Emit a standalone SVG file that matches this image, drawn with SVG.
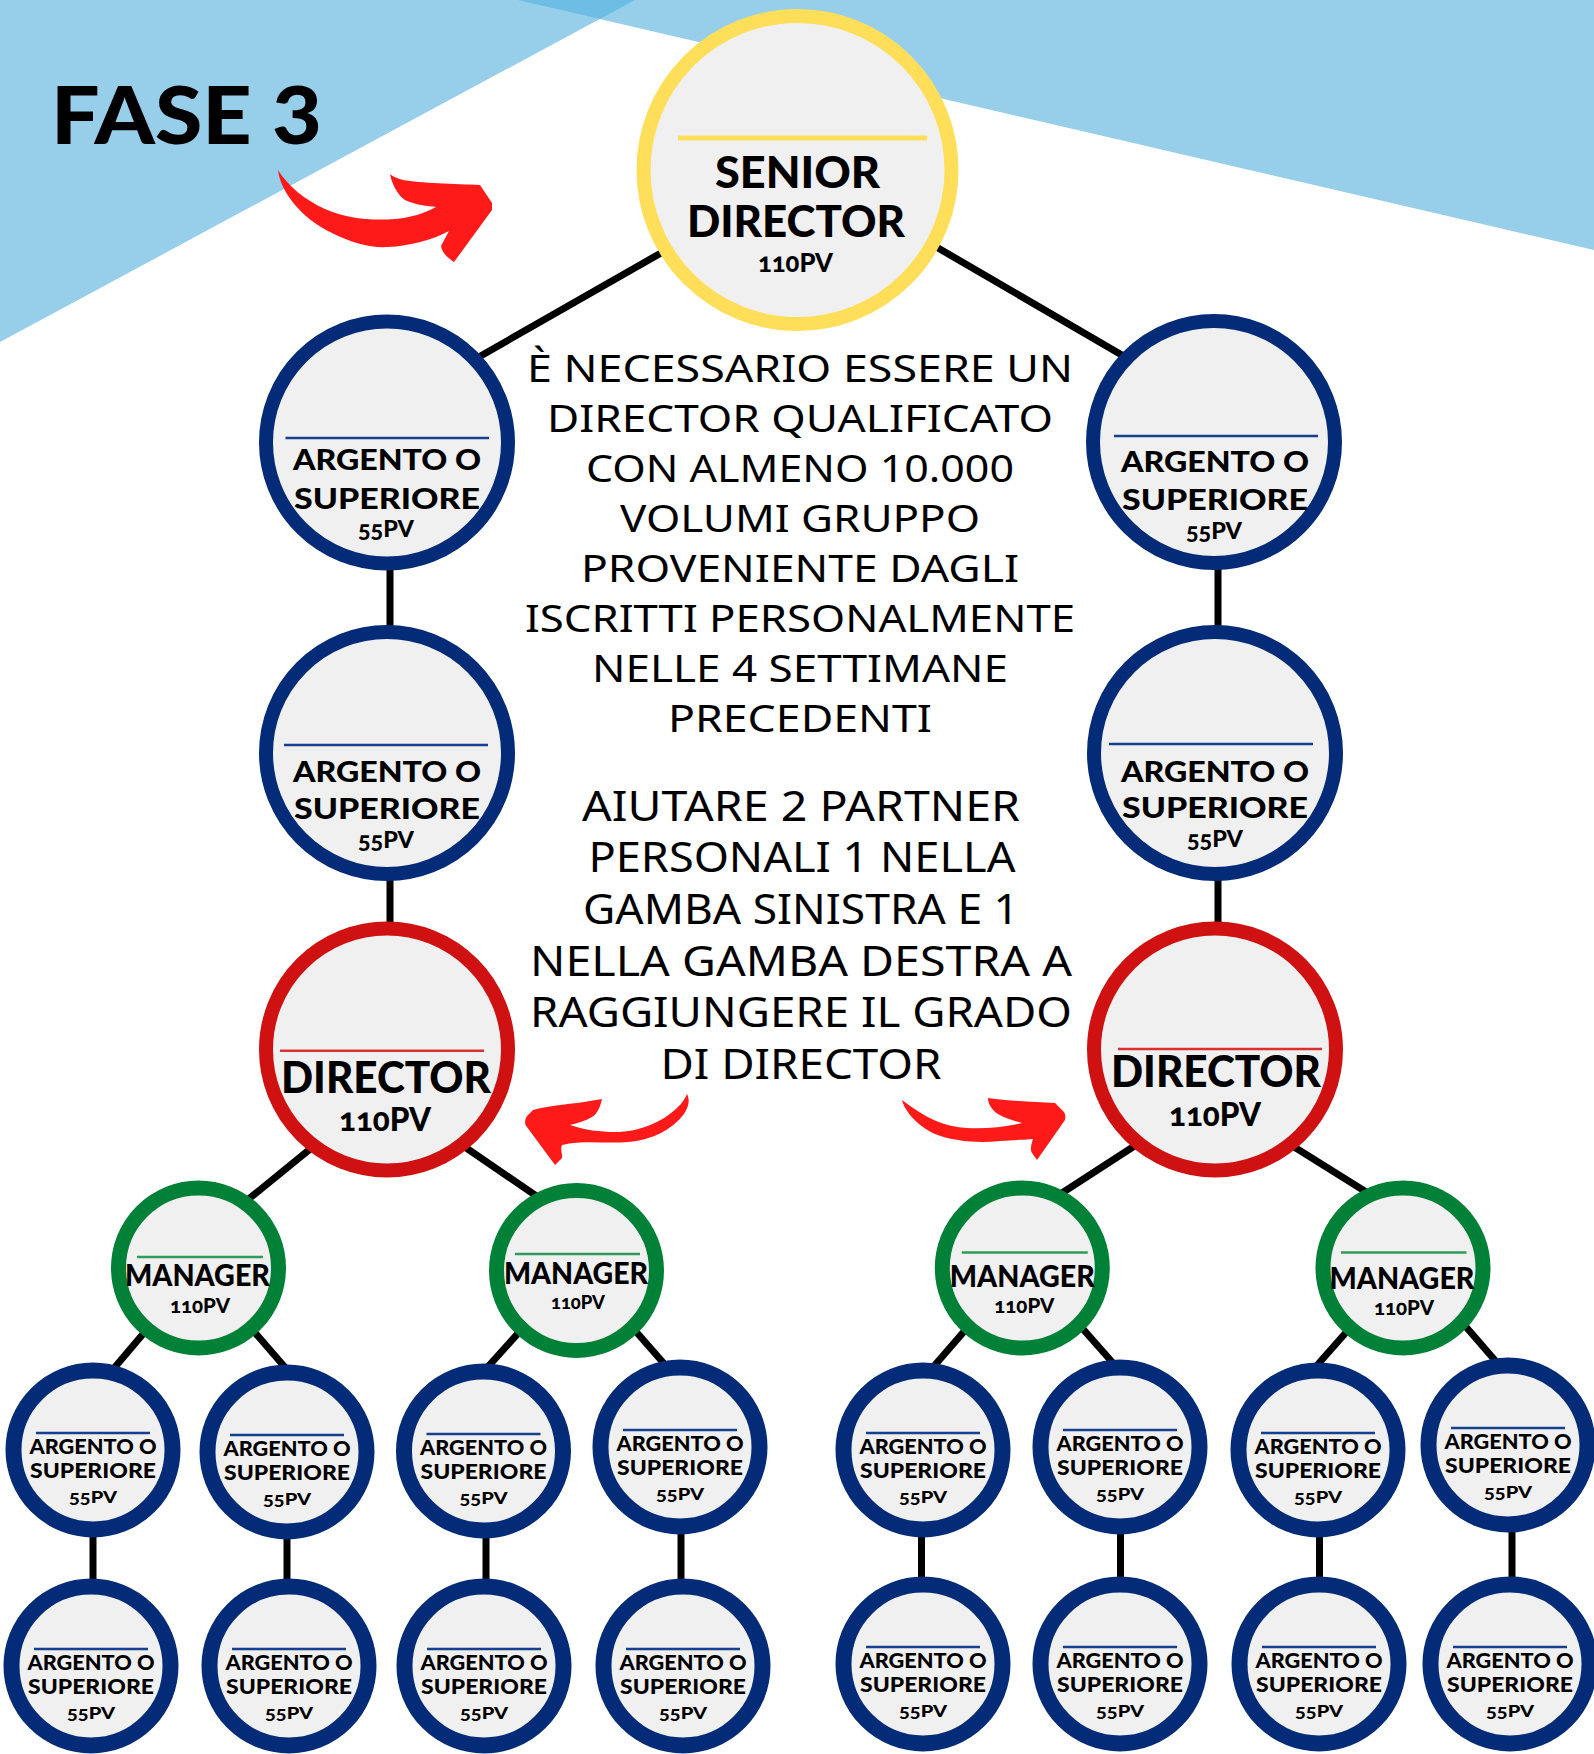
<svg xmlns="http://www.w3.org/2000/svg" width="1594" height="1754" viewBox="0 0 1594 1754">
<style>
.bg1{fill:#97cfeb}
.bg2{fill:#6dbde5}
.conn line{stroke:#000;stroke-width:7}
.arrow{fill:#ff1a1a}
circle{fill:#f0f0f0}
.sd{stroke:#ffde59;stroke-width:14}
.ag{stroke:#042b78;stroke-width:14}
.sm{stroke:#042b78;stroke-width:16}
.dr{stroke:#cf1111;stroke-width:14}
.mg{stroke:#018037;stroke-width:15}
.ly{stroke:#ffde59;stroke-width:5}
.lb{stroke:#173f8f;stroke-width:2.5}
.lr{stroke:#d93030;stroke-width:2.5}
.lg{stroke:#2f9a5a;stroke-width:2.5}
.t{font-family:Lato,"Noto Sans","DejaVu Sans",sans-serif;font-weight:900;fill:#000;text-anchor:middle}
.pv{font-variant-numeric:oldstyle-nums}
.p{font-family:"Noto Sans","Open Sans","DejaVu Sans",sans-serif;font-weight:400;fill:#000;text-anchor:middle}
.title{font-family:Lato,"Liberation Sans",sans-serif;font-weight:900;fill:#000}
</style>
<rect x="0" y="0" width="1594" height="1754" fill="#ffffff"/>
<g id="background">
<polygon class="bg1" points="0,0 635,0 0,342"/>
<polygon class="bg1" points="518,0 1594,0 1594,250"/>
<polygon class="bg2" points="518,0 635,0 600,19"/>
</g>
<text class="title" x="51" y="144" font-size="80" textLength="271" lengthAdjust="spacingAndGlyphs">FASE 3</text>
<g id="arrows">
<path class="arrow" d="M278,170 C280,190 300,218 332,233 C352,243 370,248 388,247 C410,246 432,240 449,231 L441,246 C442,253 448,258 454,262 L492,210 L492,203 L480,185 C455,184 420,183 403,180 C396,178 392,176 390,174 C392,185 398,195 405,200 C415,205 428,206 436,207 C425,213 410,218 395,219 C370,221 345,218 325,209 C305,200 288,186 278,170 Z"/>
<path class="arrow" d="M687,1094 C690,1100 689,1106 684,1114 C672,1130 652,1140 628,1142 C605,1144 585,1140 562,1145 C560,1150 563,1155 562,1158 L555,1165 L527,1127 C524,1124 525,1119 527,1116 L533,1110 C550,1105 575,1104 590,1101 L602,1099 C600,1108 597,1114 592,1117 C585,1121 578,1123 570,1125 C585,1130 600,1132 615,1132 C640,1132 662,1122 677,1108 C682,1103 685,1099 687,1094 Z"/>
<path class="arrow" d="M902,1100 C905,1112 918,1126 935,1134 C955,1142 980,1143 1000,1141 C1012,1140 1024,1140 1033,1139 C1031,1145 1030,1150 1032,1153 L1037,1160 L1065,1120 C1066,1116 1065,1113 1063,1111 L1055,1103 C1035,1102 1010,1101 988,1098 C988,1104 992,1110 998,1114 C1005,1118 1014,1121 1022,1123 C1005,1127 985,1129 967,1128 C945,1127 925,1118 902,1100 Z"/>
</g>
<g id="description">
<text class="p" x="800" y="382" font-size="38" textLength="546" lengthAdjust="spacingAndGlyphs">È NECESSARIO ESSERE UN</text>
<text class="p" x="800" y="432" font-size="38" textLength="506" lengthAdjust="spacingAndGlyphs">DIRECTOR QUALIFICATO</text>
<text class="p" x="800" y="482" font-size="38" textLength="428" lengthAdjust="spacingAndGlyphs">CON ALMENO 10.000</text>
<text class="p" x="800" y="532" font-size="38" textLength="360" lengthAdjust="spacingAndGlyphs">VOLUMI GRUPPO</text>
<text class="p" x="800" y="582" font-size="38" textLength="438" lengthAdjust="spacingAndGlyphs">PROVENIENTE DAGLI</text>
<text class="p" x="800" y="632" font-size="38" textLength="550" lengthAdjust="spacingAndGlyphs">ISCRITTI PERSONALMENTE</text>
<text class="p" x="800" y="682" font-size="38" textLength="416" lengthAdjust="spacingAndGlyphs">NELLE 4 SETTIMANE</text>
<text class="p" x="800" y="732" font-size="38" textLength="264" lengthAdjust="spacingAndGlyphs">PRECEDENTI</text>
<text class="p" x="801" y="820.5" font-size="41" textLength="438" lengthAdjust="spacingAndGlyphs">AIUTARE 2 PARTNER</text>
<text class="p" x="802" y="872" font-size="41" textLength="427" lengthAdjust="spacingAndGlyphs">PERSONALI 1 NELLA</text>
<text class="p" x="801" y="924" font-size="41" textLength="436" lengthAdjust="spacingAndGlyphs">GAMBA SINISTRA E 1</text>
<text class="p" x="801" y="975.5" font-size="41" textLength="542" lengthAdjust="spacingAndGlyphs">NELLA GAMBA DESTRA A</text>
<text class="p" x="801" y="1027" font-size="41" textLength="542" lengthAdjust="spacingAndGlyphs">RAGGIUNGERE IL GRADO</text>
<text class="p" x="801" y="1079" font-size="41" textLength="281" lengthAdjust="spacingAndGlyphs">DI DIRECTOR</text>
</g>
<g id="connectors" class="conn">
<line x1="696" y1="233" x2="428" y2="386"/>
<line x1="902" y1="227" x2="1175" y2="386"/>
<line x1="390" y1="500" x2="390" y2="700"/>
<line x1="1218" y1="500" x2="1218" y2="700"/>
<line x1="390" y1="800" x2="390" y2="1000"/>
<line x1="1218" y1="800" x2="1218" y2="1000"/>
<line x1="358" y1="1110" x2="229" y2="1215"/>
<line x1="411" y1="1110" x2="564" y2="1215"/>
<line x1="1190" y1="1110" x2="1028" y2="1215"/>
<line x1="1235" y1="1110" x2="1403" y2="1215"/>
<line x1="199" y1="1268" x2="104" y2="1380"/>
<line x1="199" y1="1268" x2="296" y2="1380"/>
<line x1="575" y1="1270" x2="476" y2="1380"/>
<line x1="582" y1="1270" x2="674" y2="1375"/>
<line x1="1019" y1="1268" x2="922" y2="1380"/>
<line x1="1029" y1="1268" x2="1128" y2="1380"/>
<line x1="1403" y1="1268" x2="1304" y2="1380"/>
<line x1="1415" y1="1268" x2="1512" y2="1380"/>
<line x1="93" y1="1500" x2="93" y2="1620"/>
<line x1="287" y1="1500" x2="287" y2="1620"/>
<line x1="486" y1="1500" x2="486" y2="1620"/>
<line x1="681" y1="1500" x2="681" y2="1620"/>
<line x1="921.5" y1="1500" x2="921.5" y2="1620"/>
<line x1="1120.5" y1="1500" x2="1120.5" y2="1620"/>
<line x1="1319.5" y1="1500" x2="1319.5" y2="1620"/>
<line x1="1512" y1="1500" x2="1512" y2="1620"/>
</g>
<g id="senior-director" transform="translate(797.5,170)">
<circle class="sd" r="154"/>
<line class="ly" x1="-119.5" y1="-32" x2="129.5" y2="-32"/>
<text class="t" x="0" y="18.3" font-size="44" textLength="165" lengthAdjust="spacingAndGlyphs">SENIOR</text>
<text class="t" x="-1.5" y="66.7" font-size="44" textLength="218" lengthAdjust="spacingAndGlyphs">DIRECTOR</text>
<text class="t pv" x="-2" y="101.7" font-size="26" textLength="75" lengthAdjust="spacingAndGlyphs">110PV</text>
</g>
<g id="argento-l1" transform="translate(387,442.5)">
<circle class="ag" r="121"/>
<line class="lb" x1="-101.5" y1="-4.5" x2="102" y2="-4.5"/>
<text class="t" x="0" y="27.5" font-size="29" textLength="188" lengthAdjust="spacingAndGlyphs">ARGENTO O</text>
<text class="t" x="0" y="66" font-size="29" textLength="186" lengthAdjust="spacingAndGlyphs">SUPERIORE</text>
<text class="t pv" x="-1" y="94.5" font-size="23" textLength="56" lengthAdjust="spacingAndGlyphs">55PV</text>
</g>
<g id="argento-l2" transform="translate(387,753)">
<circle class="ag" r="121"/>
<line class="lb" x1="-103" y1="-8" x2="101" y2="-8"/>
<text class="t" x="0" y="28.5" font-size="29" textLength="188" lengthAdjust="spacingAndGlyphs">ARGENTO O</text>
<text class="t" x="0" y="65.5" font-size="29" textLength="186" lengthAdjust="spacingAndGlyphs">SUPERIORE</text>
<text class="t pv" x="-1" y="95" font-size="23" textLength="56" lengthAdjust="spacingAndGlyphs">55PV</text>
</g>
<g id="argento-r1" transform="translate(1214,442)">
<circle class="ag" r="121"/>
<line class="lb" x1="-100" y1="-6" x2="104" y2="-6"/>
<text class="t" x="1" y="30" font-size="29" textLength="188" lengthAdjust="spacingAndGlyphs">ARGENTO O</text>
<text class="t" x="1" y="67.5" font-size="29" textLength="186" lengthAdjust="spacingAndGlyphs">SUPERIORE</text>
<text class="t pv" x="0" y="97" font-size="23" textLength="56" lengthAdjust="spacingAndGlyphs">55PV</text>
</g>
<g id="argento-r2" transform="translate(1215,753)">
<circle class="ag" r="121"/>
<line class="lb" x1="-106" y1="-9" x2="98" y2="-9"/>
<text class="t" x="0" y="28.5" font-size="29" textLength="188" lengthAdjust="spacingAndGlyphs">ARGENTO O</text>
<text class="t" x="0" y="64.5" font-size="29" textLength="186" lengthAdjust="spacingAndGlyphs">SUPERIORE</text>
<text class="t pv" x="0" y="94" font-size="23" textLength="56" lengthAdjust="spacingAndGlyphs">55PV</text>
</g>
<g id="director-left" transform="translate(387,1049.5)">
<circle class="dr" r="121"/>
<line class="lr" x1="-107" y1="1.2" x2="97" y2="1.2"/>
<text class="t" x="-1" y="43.8" font-size="43" textLength="210" lengthAdjust="spacingAndGlyphs">DIRECTOR</text>
<text class="t pv" x="-2" y="81.5" font-size="32" textLength="92" lengthAdjust="spacingAndGlyphs">110PV</text>
</g>
<g id="director-right" transform="translate(1215,1049.5)">
<circle class="dr" r="121"/>
<line class="lr" x1="-97" y1="-0.5" x2="107" y2="-0.5"/>
<text class="t" x="1" y="37.8" font-size="43" textLength="210" lengthAdjust="spacingAndGlyphs">DIRECTOR</text>
<text class="t pv" x="0" y="76.5" font-size="32" textLength="92" lengthAdjust="spacingAndGlyphs">110PV</text>
</g>
<g id="manager-1" transform="translate(198.5,1268)">
<circle class="mg" r="80"/>
<line class="lg" x1="-61.5" y1="-11" x2="64.5" y2="-11"/>
<text class="t" x="-1" y="18" font-size="30" textLength="145" lengthAdjust="spacingAndGlyphs">MANAGER</text>
<text class="t pv" x="1.5" y="44.5" font-size="20" textLength="60" lengthAdjust="spacingAndGlyphs">110PV</text>
</g>
<g id="manager-2" transform="translate(576.5,1270.5)">
<circle class="mg" r="80"/>
<line class="lg" x1="-61.5" y1="-16.5" x2="63.5" y2="-16.5"/>
<text class="t" x="-0.5" y="13.5" font-size="30" textLength="144" lengthAdjust="spacingAndGlyphs">MANAGER</text>
<text class="t pv" x="1.5" y="38.5" font-size="19" textLength="54" lengthAdjust="spacingAndGlyphs">110PV</text>
</g>
<g id="manager-3" transform="translate(1022.3,1268)">
<circle class="mg" r="80"/>
<line class="lg" x1="-60.5" y1="-15.4" x2="65.5" y2="-15.4"/>
<text class="t" x="0" y="18.6" font-size="30" textLength="145" lengthAdjust="spacingAndGlyphs">MANAGER</text>
<text class="t pv" x="2" y="44.6" font-size="20" textLength="60" lengthAdjust="spacingAndGlyphs">110PV</text>
</g>
<g id="manager-4" transform="translate(1403,1268)">
<circle class="mg" r="80"/>
<line class="lg" x1="-62" y1="-15.4" x2="63.5" y2="-15.4"/>
<text class="t" x="-1" y="20.5" font-size="30" textLength="145" lengthAdjust="spacingAndGlyphs">MANAGER</text>
<text class="t pv" x="1" y="46.6" font-size="20" textLength="60" lengthAdjust="spacingAndGlyphs">110PV</text>
</g>
<defs>
<g id="small">
<circle class="sm" r="79.5"/>
<line class="lb" x1="-57" y1="-17" x2="57" y2="-17"/>
<text class="t" x="0" y="3.5" font-size="21" textLength="127" lengthAdjust="spacingAndGlyphs">ARGENTO O</text>
<text class="t" x="0" y="27.5" font-size="21" textLength="126" lengthAdjust="spacingAndGlyphs">SUPERIORE</text>
<text class="t pv" x="0" y="53" font-size="17" textLength="48" lengthAdjust="spacingAndGlyphs">55PV</text>
</g>
</defs>
<g id="argento-a1"><use href="#small" x="93" y="1450"/></g>
<g id="argento-a2"><use href="#small" x="287" y="1452"/></g>
<g id="argento-a3"><use href="#small" x="483.5" y="1451"/></g>
<g id="argento-a4"><use href="#small" x="680" y="1447"/></g>
<g id="argento-c1"><use href="#small" x="923" y="1450"/></g>
<g id="argento-c2"><use href="#small" x="1120" y="1447"/></g>
<g id="argento-c3"><use href="#small" x="1318" y="1450"/></g>
<g id="argento-c4"><use href="#small" x="1508" y="1445"/></g>
<g id="argento-b1"><use href="#small" x="91" y="1666"/></g>
<g id="argento-b2"><use href="#small" x="289" y="1666"/></g>
<g id="argento-b3"><use href="#small" x="484" y="1666"/></g>
<g id="argento-b4"><use href="#small" x="683" y="1666"/></g>
<g id="argento-d1"><use href="#small" x="923" y="1664"/></g>
<g id="argento-d2"><use href="#small" x="1120" y="1664"/></g>
<g id="argento-d3"><use href="#small" x="1319" y="1664"/></g>
<g id="argento-d4"><use href="#small" x="1510" y="1664"/></g>
</svg>
